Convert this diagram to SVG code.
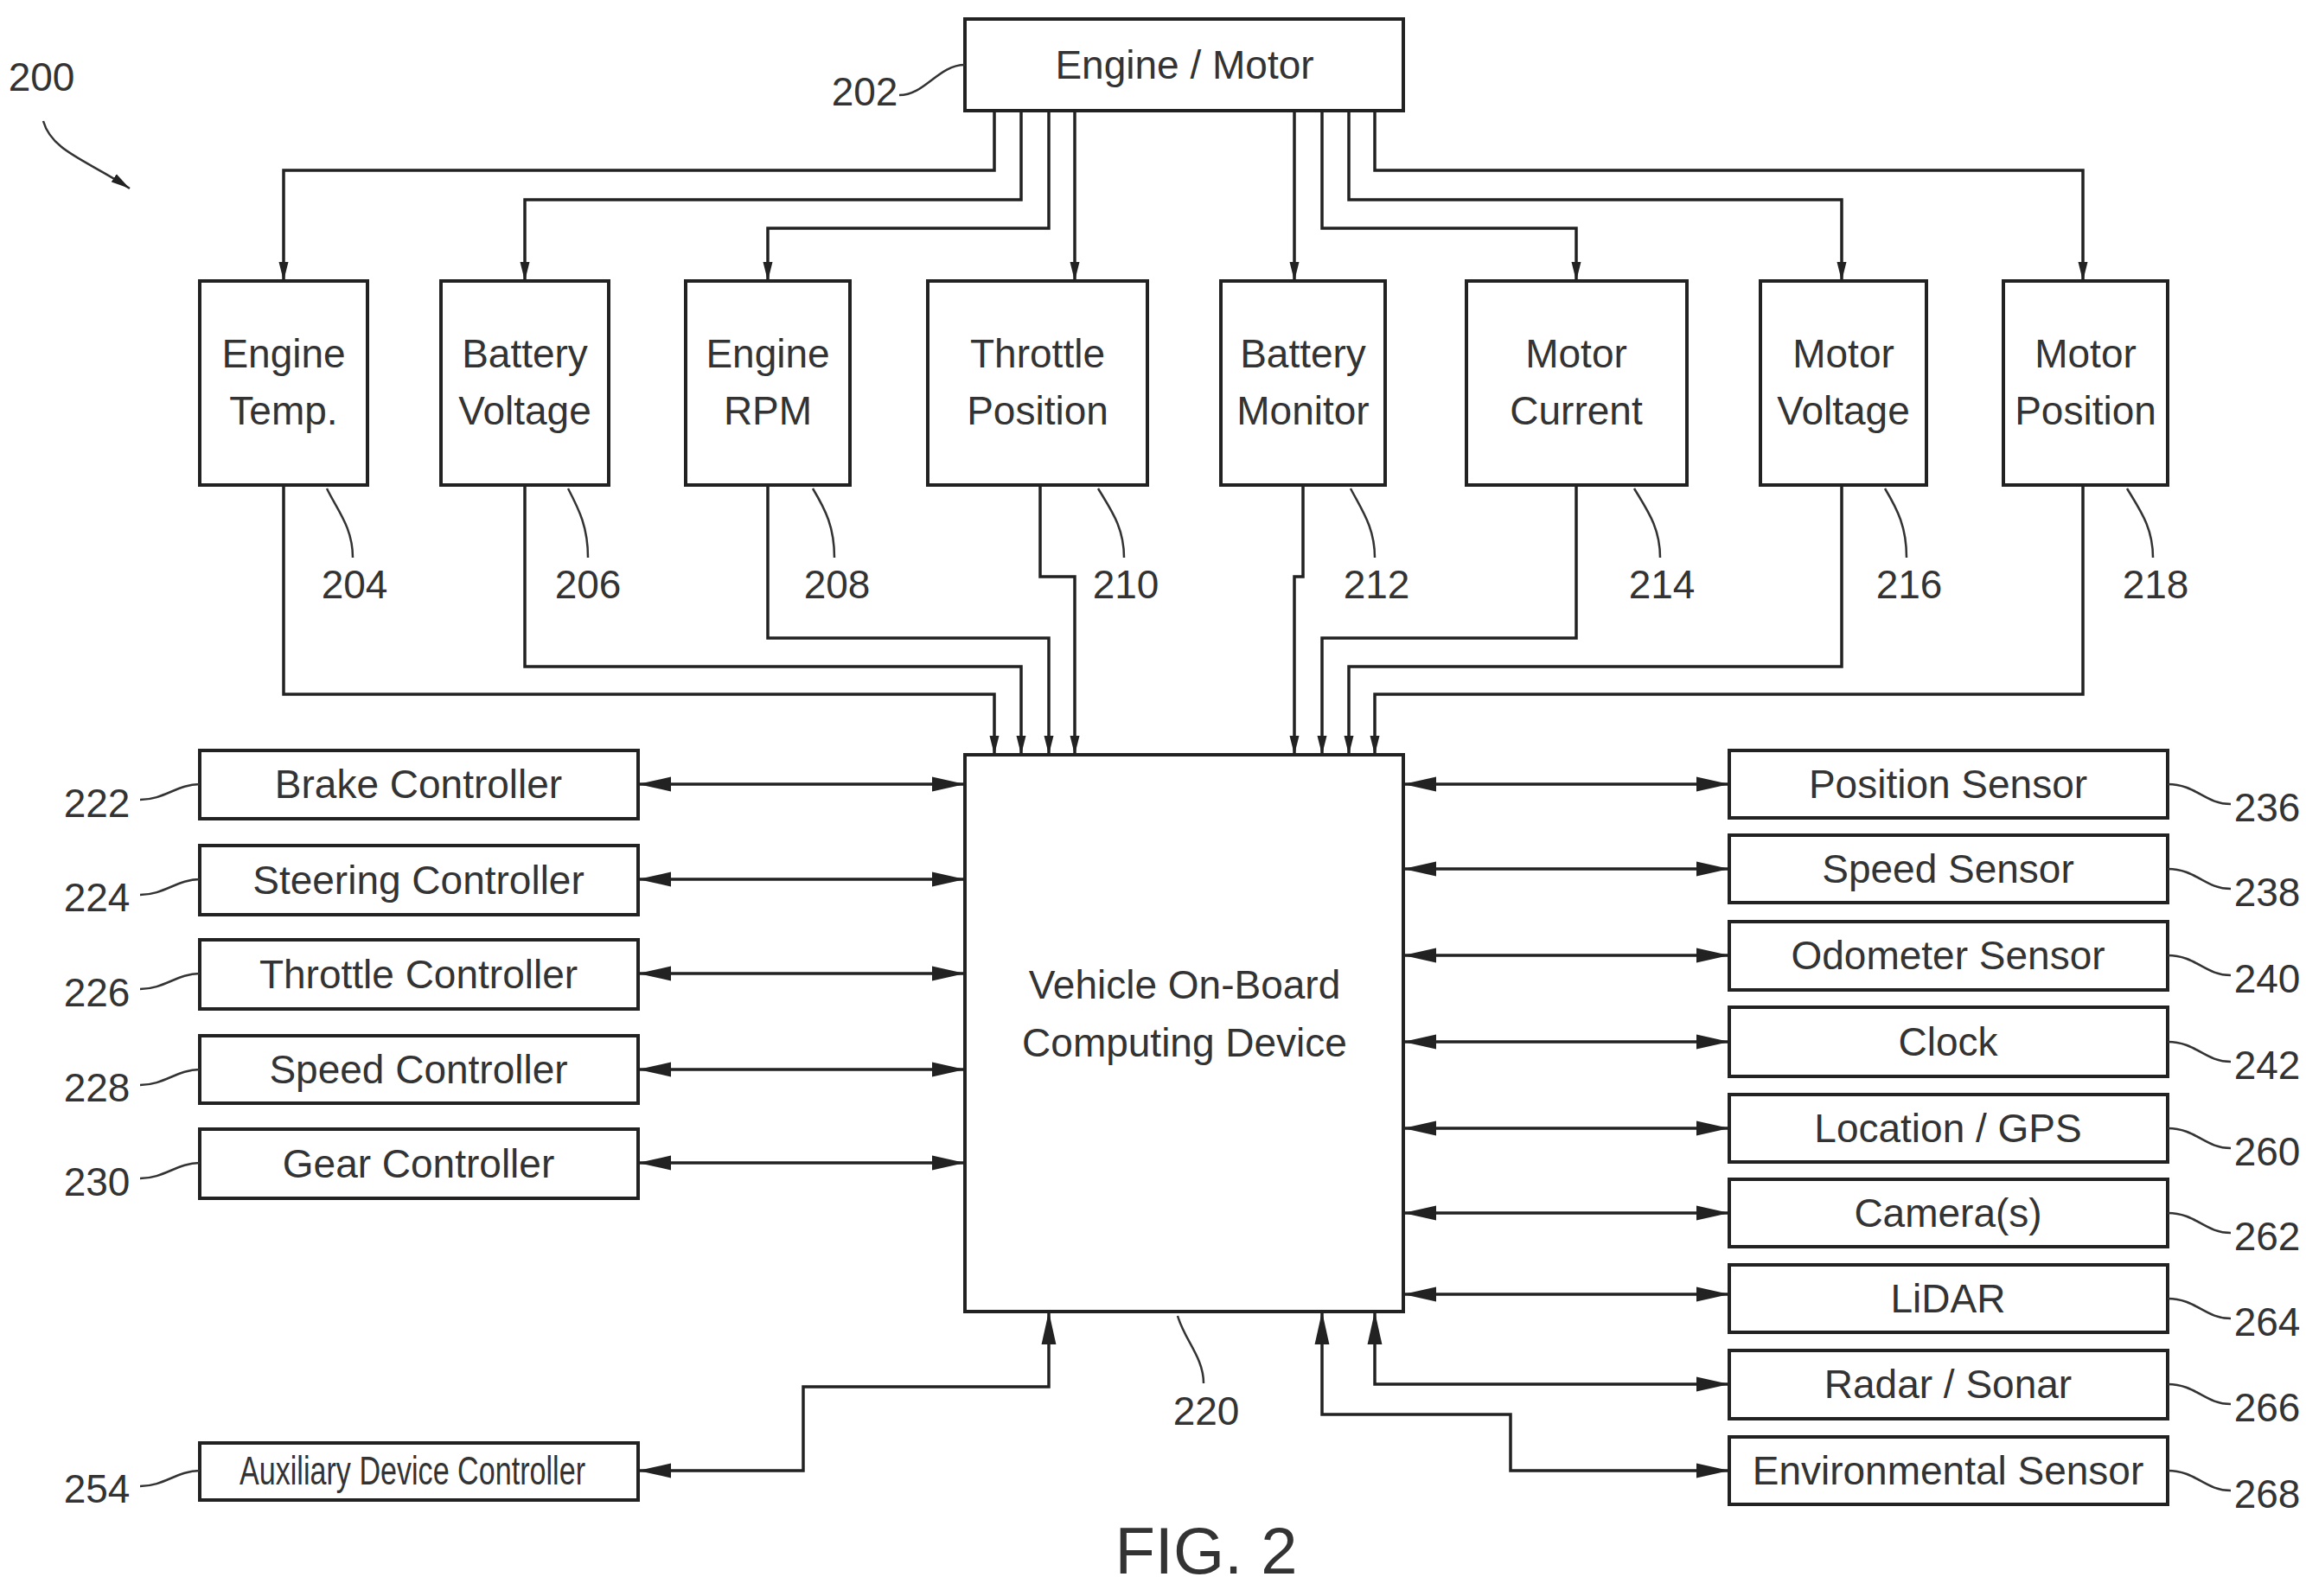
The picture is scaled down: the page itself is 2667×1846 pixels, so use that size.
<svg xmlns="http://www.w3.org/2000/svg" width="2667" height="1846" viewBox="0 0 2667 1846">
<style>
.b{fill:#fff;stroke:#222;stroke-width:4}
.t{font-family:"Liberation Sans",Arial,sans-serif;font-size:46px;fill:#333;text-anchor:middle}
.n{font-family:"Liberation Sans",Arial,sans-serif;font-size:46px;fill:#333;text-anchor:middle}
.c{fill:none;stroke:#222;stroke-width:3.5}
.l{fill:none;stroke:#333;stroke-width:2.5}
</style>
<defs>
<marker id="a" viewBox="0 0 20 10" refX="20" refY="5" markerWidth="22" markerHeight="12" markerUnits="userSpaceOnUse" orient="auto-start-reverse"><path d="M0,0L20,5L0,10z" fill="#222"/></marker>
<marker id="A" viewBox="0 0 36 16" refX="36" refY="8" markerWidth="38" markerHeight="18" markerUnits="userSpaceOnUse" orient="auto-start-reverse"><path d="M0,0L36,8L0,16z" fill="#222"/></marker>
</defs>
<rect width="2667" height="1846" fill="#fff"/>
<g id="connectors">
<path class="c" marker-end="url(#a)" d="M1150,128V197H328V325"/>
<path class="c" marker-end="url(#a)" d="M1181,128V231H607V325"/>
<path class="c" marker-end="url(#a)" d="M1213,128V264H888V325"/>
<path class="c" marker-end="url(#a)" d="M1243,128V325"/>
<path class="c" marker-end="url(#a)" d="M1497,128V325"/>
<path class="c" marker-end="url(#a)" d="M1529,128V264H1823V325"/>
<path class="c" marker-end="url(#a)" d="M1560,128V231H2130V325"/>
<path class="c" marker-end="url(#a)" d="M1590,128V197H2409V325"/>
<path class="c" marker-end="url(#a)" d="M328,561V803H1150V873"/>
<path class="c" marker-end="url(#a)" d="M607,561V771H1181V873"/>
<path class="c" marker-end="url(#a)" d="M888,561V738H1213V873"/>
<path class="c" marker-end="url(#a)" d="M1203,561V667H1243V873"/>
<path class="c" marker-end="url(#a)" d="M1507,561V667H1497V873"/>
<path class="c" marker-end="url(#a)" d="M1823,561V738H1529V873"/>
<path class="c" marker-end="url(#a)" d="M2130,561V771H1560V873"/>
<path class="c" marker-end="url(#a)" d="M2409,561V803H1590V873"/>
<path class="c" marker-start="url(#A)" marker-end="url(#A)" d="M738,907H1116"/>
<path class="c" marker-start="url(#A)" marker-end="url(#A)" d="M738,1017H1116"/>
<path class="c" marker-start="url(#A)" marker-end="url(#A)" d="M738,1126H1116"/>
<path class="c" marker-start="url(#A)" marker-end="url(#A)" d="M738,1237H1116"/>
<path class="c" marker-start="url(#A)" marker-end="url(#A)" d="M738,1345H1116"/>
<path class="c" marker-start="url(#A)" marker-end="url(#A)" d="M738,1701H929V1604H1213V1517"/>
<path class="c" marker-start="url(#A)" marker-end="url(#A)" d="M1623,907H2000"/>
<path class="c" marker-start="url(#A)" marker-end="url(#A)" d="M1623,1005H2000"/>
<path class="c" marker-start="url(#A)" marker-end="url(#A)" d="M1623,1105H2000"/>
<path class="c" marker-start="url(#A)" marker-end="url(#A)" d="M1623,1205H2000"/>
<path class="c" marker-start="url(#A)" marker-end="url(#A)" d="M1623,1305H2000"/>
<path class="c" marker-start="url(#A)" marker-end="url(#A)" d="M1623,1403H2000"/>
<path class="c" marker-start="url(#A)" marker-end="url(#A)" d="M1623,1497H2000"/>
<path class="c" marker-start="url(#A)" marker-end="url(#A)" d="M1590,1517V1601H2000"/>
<path class="c" marker-start="url(#A)" marker-end="url(#A)" d="M1529,1517V1636H1747V1701H2000"/>
</g>
<g id="n202"><rect class="b" x="1116" y="22" width="507" height="106"/><text class="t" x="1370" y="91">Engine / Motor</text></g>
<g id="n204"><rect class="b" x="231" y="325" width="194" height="236"/><text class="t" x="328" y="425">Engine</text><text class="t" x="328" y="491">Temp.</text></g>
<g id="n206"><rect class="b" x="510" y="325" width="194" height="236"/><text class="t" x="607" y="425">Battery</text><text class="t" x="607" y="491">Voltage</text></g>
<g id="n208"><rect class="b" x="793" y="325" width="190" height="236"/><text class="t" x="888" y="425">Engine</text><text class="t" x="888" y="491">RPM</text></g>
<g id="n210"><rect class="b" x="1073" y="325" width="254" height="236"/><text class="t" x="1200" y="425">Throttle</text><text class="t" x="1200" y="491">Position</text></g>
<g id="n212"><rect class="b" x="1412" y="325" width="190" height="236"/><text class="t" x="1507" y="425">Battery</text><text class="t" x="1507" y="491">Monitor</text></g>
<g id="n214"><rect class="b" x="1696" y="325" width="255" height="236"/><text class="t" x="1823" y="425">Motor</text><text class="t" x="1823" y="491">Current</text></g>
<g id="n216"><rect class="b" x="2036" y="325" width="192" height="236"/><text class="t" x="2132" y="425">Motor</text><text class="t" x="2132" y="491">Voltage</text></g>
<g id="n218"><rect class="b" x="2317" y="325" width="190" height="236"/><text class="t" x="2412" y="425">Motor</text><text class="t" x="2412" y="491">Position</text></g>
<g id="n220"><rect class="b" x="1116" y="873" width="507" height="644"/><text class="t" x="1370" y="1155">Vehicle On-Board</text><text class="t" x="1370" y="1222">Computing Device</text></g>
<g id="n222"><rect class="b" x="231" y="868" width="507" height="79"/><text class="t" x="484" y="923">Brake Controller</text></g>
<g id="n224"><rect class="b" x="231" y="978" width="507" height="80"/><text class="t" x="484" y="1034">Steering Controller</text></g>
<g id="n226"><rect class="b" x="231" y="1087" width="507" height="80"/><text class="t" x="484" y="1143">Throttle Controller</text></g>
<g id="n228"><rect class="b" x="231" y="1198" width="507" height="78"/><text class="t" x="484" y="1253">Speed Controller</text></g>
<g id="n230"><rect class="b" x="231" y="1306" width="507" height="80"/><text class="t" x="484" y="1362">Gear Controller</text></g>
<g id="n254"><rect class="b" x="231" y="1669" width="507" height="66"/><text class="t" x="477" y="1717" textLength="400" lengthAdjust="spacingAndGlyphs">Auxiliary Device Controller</text></g>
<g id="n236"><rect class="b" x="2000" y="868" width="507" height="78"/><text class="t" x="2253" y="923">Position Sensor</text></g>
<g id="n238"><rect class="b" x="2000" y="966" width="507" height="78"/><text class="t" x="2253" y="1021">Speed Sensor</text></g>
<g id="n240"><rect class="b" x="2000" y="1066" width="507" height="79"/><text class="t" x="2253" y="1121">Odometer Sensor</text></g>
<g id="n242"><rect class="b" x="2000" y="1165" width="507" height="80"/><text class="t" x="2253" y="1221">Clock</text></g>
<g id="n260"><rect class="b" x="2000" y="1266" width="507" height="78"/><text class="t" x="2253" y="1321">Location / GPS</text></g>
<g id="n262"><rect class="b" x="2000" y="1364" width="507" height="78"/><text class="t" x="2253" y="1419">Camera(s)</text></g>
<g id="n264"><rect class="b" x="2000" y="1463" width="507" height="78"/><text class="t" x="2253" y="1518">LiDAR</text></g>
<g id="n266"><rect class="b" x="2000" y="1562" width="507" height="79"/><text class="t" x="2253" y="1617">Radar / Sonar</text></g>
<g id="n268"><rect class="b" x="2000" y="1662" width="507" height="78"/><text class="t" x="2253" y="1717">Environmental Sensor</text></g>
<g id="labels">
<text class="n" x="48" y="105">200</text>
<path class="l" d="M50,140C60,175 100,185 150,218" marker-end="url(#a)"/>
<text class="n" x="1000" y="122">202</text>
<path class="l" d="M1040,110C1070,110 1085,75 1116,75"/>
<path class="l" d="M378,565C390,590 408,610 408,645"/><text class="n" x="410" y="692">204</text>
<path class="l" d="M657,565C670,590 680,610 680,645"/><text class="n" x="680" y="692">206</text>
<path class="l" d="M940,565C955,590 965,610 965,645"/><text class="n" x="968" y="692">208</text>
<path class="l" d="M1270,565C1285,590 1300,610 1300,645"/><text class="n" x="1302" y="692">210</text>
<path class="l" d="M1562,565C1575,590 1590,610 1590,645"/><text class="n" x="1592" y="692">212</text>
<path class="l" d="M1890,565C1905,590 1920,610 1920,645"/><text class="n" x="1922" y="692">214</text>
<path class="l" d="M2180,565C2195,590 2205,610 2205,645"/><text class="n" x="2208" y="692">216</text>
<path class="l" d="M2460,565C2475,590 2490,610 2490,645"/><text class="n" x="2493" y="692">218</text>
<path class="l" d="M1362,1522C1370,1550 1392,1570 1392,1600"/><text class="n" x="1395" y="1648">220</text>
<text class="n" x="112" y="945">222</text><path class="l" d="M162,925C190,925 205,907 231,907"/>
<text class="n" x="112" y="1054">224</text><path class="l" d="M162,1035C190,1035 205,1017 231,1017"/>
<text class="n" x="112" y="1164">226</text><path class="l" d="M162,1144C190,1144 205,1126 231,1126"/>
<text class="n" x="112" y="1274">228</text><path class="l" d="M162,1255C190,1255 205,1237 231,1237"/>
<text class="n" x="112" y="1383">230</text><path class="l" d="M162,1363C190,1363 205,1345 231,1345"/>
<text class="n" x="112" y="1738">254</text><path class="l" d="M162,1719C190,1719 205,1701 231,1701"/>
<text class="n" x="2622" y="950">236</text><path class="l" d="M2507,907C2540,907 2550,930 2580,930"/>
<text class="n" x="2622" y="1048">238</text><path class="l" d="M2507,1005C2540,1005 2550,1028 2580,1028"/>
<text class="n" x="2622" y="1148">240</text><path class="l" d="M2507,1105C2540,1105 2550,1128 2580,1128"/>
<text class="n" x="2622" y="1248">242</text><path class="l" d="M2507,1205C2540,1205 2550,1228 2580,1228"/>
<text class="n" x="2622" y="1348">260</text><path class="l" d="M2507,1305C2540,1305 2550,1328 2580,1328"/>
<text class="n" x="2622" y="1446">262</text><path class="l" d="M2507,1403C2540,1403 2550,1426 2580,1426"/>
<text class="n" x="2622" y="1545">264</text><path class="l" d="M2507,1502C2540,1502 2550,1525 2580,1525"/>
<text class="n" x="2622" y="1644">266</text><path class="l" d="M2507,1601C2540,1601 2550,1624 2580,1624"/>
<text class="n" x="2622" y="1744">268</text><path class="l" d="M2507,1701C2540,1701 2550,1724 2580,1724"/>
<text class="t" x="1395" y="1820" style="font-size:76px">FIG. 2</text>
</g>
</svg>
